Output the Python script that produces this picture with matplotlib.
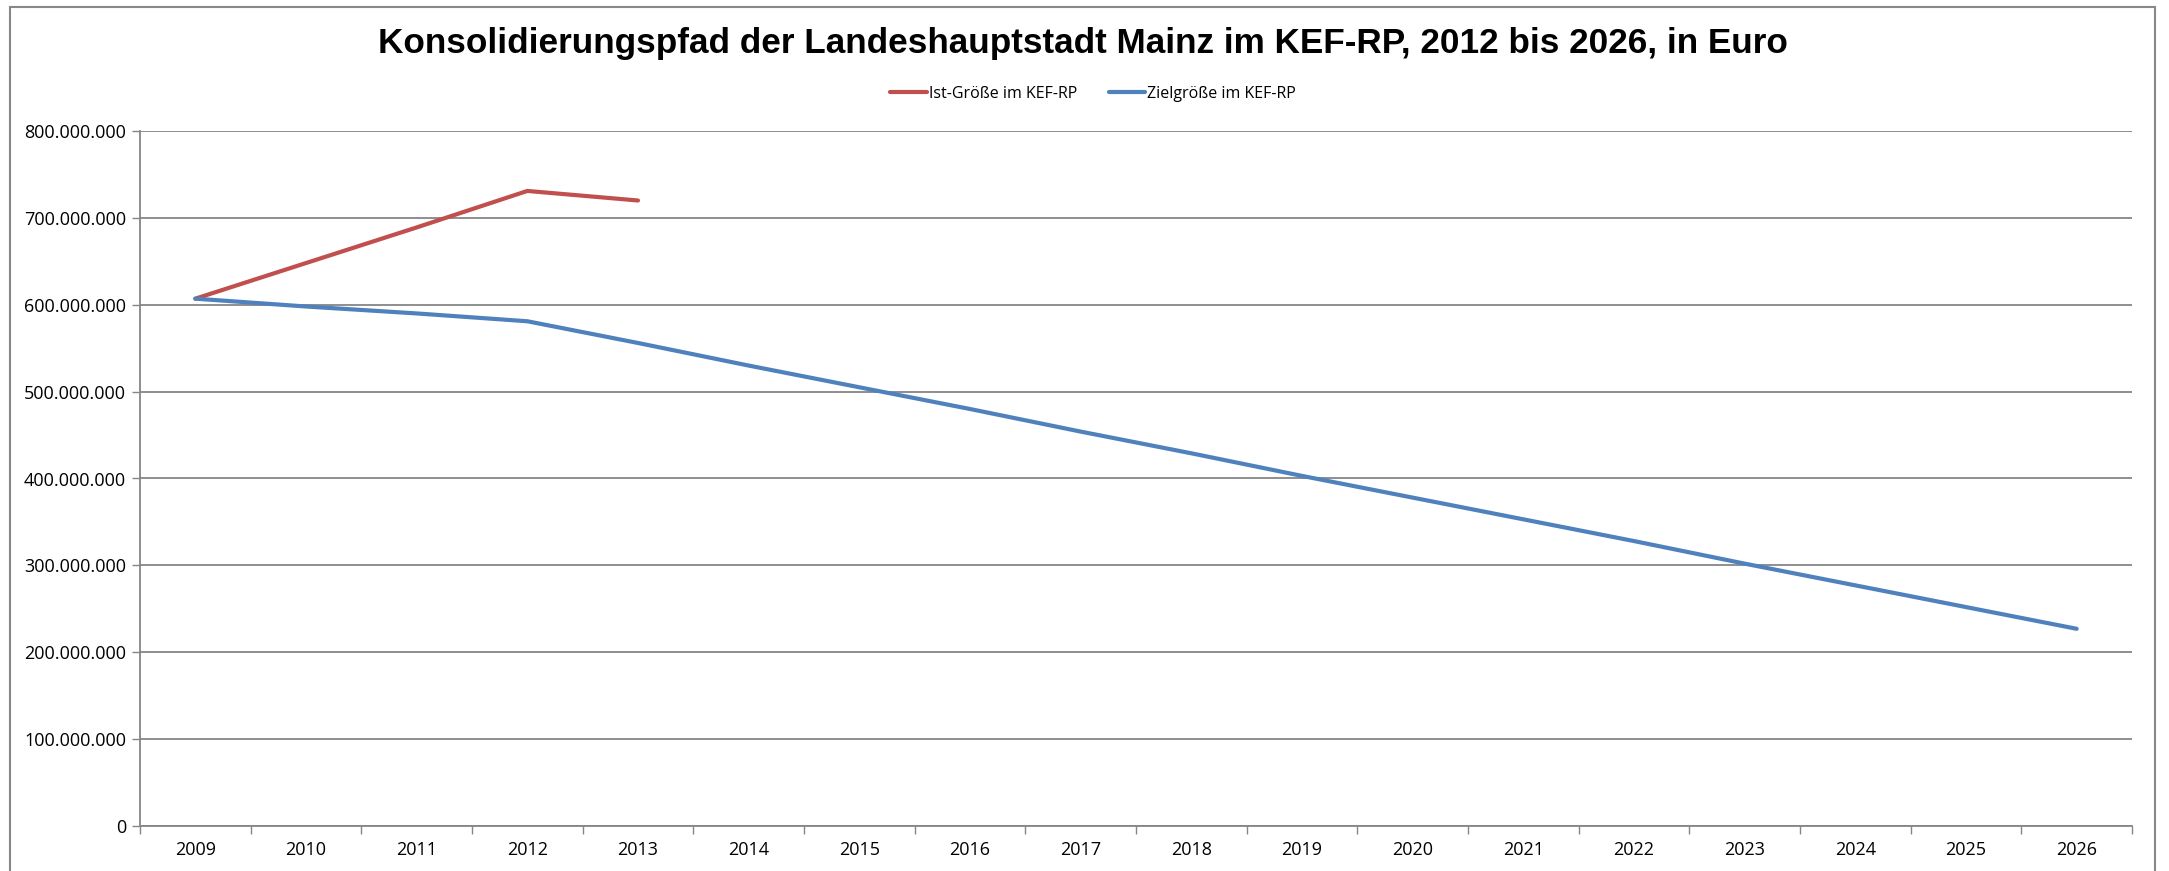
import matplotlib
matplotlib.use('Agg')
import matplotlib.pyplot as plt
from matplotlib.patches import Rectangle
import numpy as np

# values (in Euro)
years = ['2009', '2010', '2011', '2012', '2013', '2014', '2015', '2016', '2017',
         '2018', '2019', '2020', '2021', '2022', '2023', '2024', '2025', '2026']
ist_groesse = [607e6, 648e6, 689e6, 731e6, 720e6]
ziel_groesse = [607e6, 598e6, 590e6, 581e6, 556e6, 530e6, 505e6, 480e6, 454e6,
                429e6, 403e6, 378e6, 353e6, 328e6, 302e6, 277e6, 252e6, 227e6]
yticks = [0, 100e6, 200e6, 300e6, 400e6, 500e6, 600e6, 700e6, 800e6]

RED = '#C0504D'
BLUE = '#4F81BD'
GRID = '#868686'

W, H = 2169, 871
fig = plt.figure(figsize=(W / 100, H / 100), dpi=100)
ax = fig.add_axes([140 / W, 1 - 826 / H, (2132 - 140) / W, (826 - 131) / H])

x = np.arange(len(years))
ax.plot(x[:len(ist_groesse)], ist_groesse, color=RED, lw=3, solid_capstyle='round',
        label='Ist-Größe im KEF-RP')
ax.plot(x, ziel_groesse, color=BLUE, lw=3, solid_capstyle='round',
        label='Zielgröße im KEF-RP')

ax.set_xlim(-0.5, len(years) - 0.5)
ax.set_ylim(0, 800e6)
ax.set_yticks(yticks)
ax.set_yticklabels(['{:,.0f}'.format(v).replace(',', '.') for v in yticks])
ax.set_xticks(x)
ax.set_xticklabels(years)
ax.set_xticks(np.arange(-0.5, len(years)), minor=True)
ax.tick_params(axis='x', which='major', length=0, pad=11)
ax.tick_params(axis='x', which='minor', length=6, color=GRID, width=1)
ax.tick_params(axis='y', length=6, color=GRID, width=1, pad=4)
for lab in ax.get_xticklabels() + ax.get_yticklabels():
    lab.set_fontfamily('Open Sans')
    lab.set_fontsize(13)

ax.yaxis.grid(True, color=GRID, lw=1.3)
ax.set_axisbelow(True)
for s in ['top', 'right']:
    ax.spines[s].set_visible(False)
ax.spines['left'].set_color(GRID)
ax.spines['bottom'].set_color(GRID)
ax.spines['left'].set_linewidth(1.3)
ax.spines['bottom'].set_linewidth(1.3)

fig.text(0.4995, 1 - 44 / H, 'Konsolidierungspfad der Landeshauptstadt Mainz im KEF-RP, 2012 bis 2026, in Euro',
         ha='center', va='center', fontsize=25.3, fontweight='bold', family='Liberation Sans')

fig.legend(loc='center', bbox_to_anchor=(1093 / W, 1 - 94 / H), ncol=2, frameon=False,
           prop={'family': 'Open Sans', 'size': 11.5}, handlelength=2.3, handletextpad=0.1,
           columnspacing=2.0)

# outer chart frame
fig.patches.append(Rectangle((10 / W, -0.05), (2155 - 10) / W, 1.05 - 7 / H,
                             transform=fig.transFigure, fill=False, ec='#888888', lw=1.5))

fig.savefig('out.png', dpi=100)
